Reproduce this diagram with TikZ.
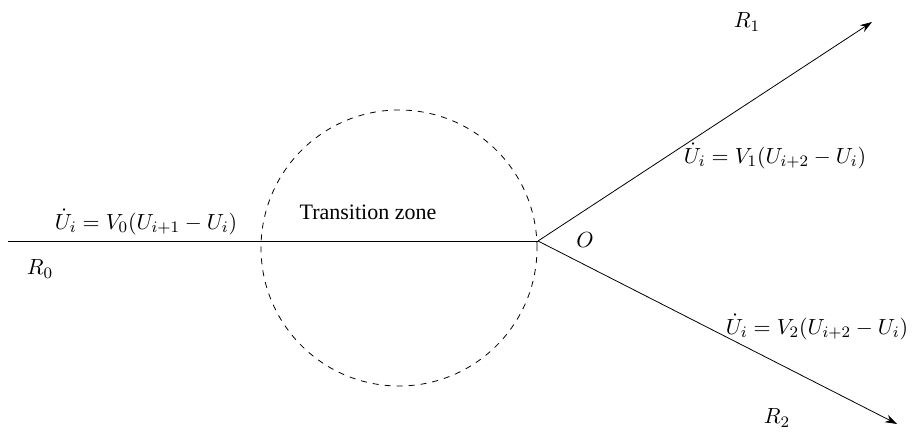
\documentclass[tikz,border=0pt]{standalone}
\usepackage{fontspec}
\setmainfont{Liberation Serif}
\usetikzlibrary{arrows.meta, positioning}

\begin{document}
\begin{tikzpicture}[
  x=0.5pt, y=-0.5pt,
  branch/.style={-{Stealth[length=6pt, width=4pt]}},
  zone/.style={draw, dashed, circle, minimum size=138pt, inner sep=0pt},
  lbl/.style={font=\rmfamily\fontsize{11}{13}\selectfont, inner sep=1pt}
]
  \useasboundingbox (0,0) rectangle (914,432);

  % Junction and branches
  \coordinate (O) at (538,241);
  \coordinate (start) at (8,241);
  \coordinate (end1) at (872,22);
  \coordinate (end2) at (897,424);
  \node[zone] (circ) at (399,248) {};

  \draw (start) -- (O);
  \draw[branch] (O) -- (end1);
  \draw[branch] (O) -- (end2);

  % Labels
  \node[lbl] (tz) at (368,212) {Transition zone};
  \node[lbl] (eqzero) at (146,222) {$\dot U_i = V_0(U_{i+1}-U_i)$};
  \node[lbl] (eqone) at (775,156) {$\dot U_i = V_1(U_{i+2}-U_i)$};
  \node[lbl] (eqtwo) at (817,327) {$\dot U_i = V_2(U_{i+2}-U_i)$};
  \node[lbl] (rzero) at (40,269) {$R_0$};
  \node[lbl] (rone) at (747,22) {$R_1$};
  \node[lbl] (rtwo) at (777,418) {$R_2$};
  \node[lbl] (olbl) at (585,240) {$O$};
\end{tikzpicture}
\end{document}
